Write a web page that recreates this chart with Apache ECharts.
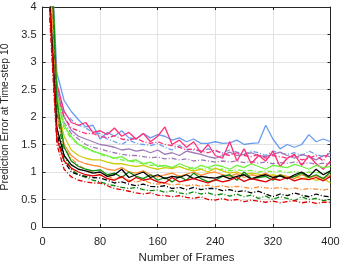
<!DOCTYPE html>
<html><head><meta charset="utf-8">
<script src="https://cdn.jsdelivr.net/npm/echarts@6/dist/echarts.min.js"></script>
<style>html,body{margin:0;padding:0;background:#fff}#c{width:343px;height:263px}</style>
</head><body><div id="c"></div>
<script>
const frames = [10,20,30,40,50,60,70,80,90,100,110,120,130,140,150,160,170,180,190,200,210,220,230,240,250,260,270,280,290,300,310,320,330,340,350,360,370,380,390,400];
const xTicks = [0,80,160,240,320,400];
const yTicks = [0,0.5,1,1.5,2,2.5,3,3.5,4];

const blueSolid = [5.5,2.8,2.3,2.1,1.95,1.82,1.85,1.6,1.72,1.65,1.75,1.62,1.6,1.7,1.62,1.68,1.65,1.58,1.62,1.55,1.6,1.52,1.52,1.55,1.52,1.53,1.58,1.5,1.52,1.53,1.85,1.6,1.42,1.5,1.45,1.5,1.68,1.55,1.6,1.55];
const blueDash = [5.2,2.6,2.1,1.95,1.85,1.8,1.72,1.7,1.6,1.55,1.5,1.58,1.52,1.5,1.48,1.52,1.45,1.4,1.48,1.42,1.4,1.38,1.42,1.38,1.35,1.4,1.36,1.32,1.38,1.35,1.3,1.38,1.34,1.32,1.35,1.3,1.38,1.32,1.28,1.35];
const pinkSolid = [5.0,2.6,2.1,1.9,1.85,1.9,1.72,1.75,1.68,1.8,1.65,1.72,1.6,1.7,1.55,1.65,1.82,1.5,1.58,1.45,1.55,1.35,1.5,1.3,1.25,1.55,1.2,1.42,1.15,1.3,1.2,1.38,1.1,1.25,1.32,1.12,1.3,1.15,1.05,1.2];
const pinkDash = [4.8,2.4,2.0,1.8,1.75,1.7,1.7,1.65,1.62,1.66,1.6,1.58,1.62,1.55,1.52,1.55,1.5,1.48,1.45,1.4,1.42,1.38,1.35,1.4,1.33,1.3,1.35,1.3,1.28,1.32,1.25,1.3,1.28,1.25,1.3,1.22,1.25,1.3,1.2,1.4];
const purpleSolid = [5.0,2.5,2.0,1.76,1.65,1.6,1.55,1.5,1.48,1.45,1.4,1.42,1.38,1.4,1.35,1.4,1.32,1.35,1.3,1.38,1.35,1.32,1.28,1.25,1.3,1.36,1.3,1.32,1.35,1.3,1.28,1.32,1.36,1.3,1.25,1.32,1.28,1.22,1.3,1.28];
const purpleDash = [4.8,2.3,1.9,1.7,1.6,1.5,1.45,1.42,1.38,1.35,1.32,1.3,1.3,1.28,1.26,1.27,1.24,1.25,1.22,1.24,1.2,1.22,1.2,1.18,1.2,1.18,1.2,1.17,1.19,1.16,1.18,1.15,1.17,1.16,1.18,1.15,1.17,1.14,1.16,1.15];
const limeSolid = [5.5,2.4,1.85,1.64,1.5,1.45,1.38,1.34,1.3,1.25,1.28,1.2,1.22,1.15,1.18,1.1,1.12,1.08,1.15,1.1,1.05,1.12,1.08,1.13,1.1,1.05,1.12,1.08,1.15,1.1,1.05,1.12,1.1,1.08,1.14,1.1,1.05,1.12,1.08,1.1];
const limeDash = [5.3,2.3,1.8,1.6,1.5,1.42,1.38,1.32,1.28,1.25,1.22,1.2,1.18,1.15,1.12,1.13,1.1,1.08,1.1,1.06,1.08,1.05,1.06,1.04,1.05,1.02,1.04,1.02,1.03,1.0,1.02,1.0,1.02,0.99,1.01,0.98,1.0,0.99,0.98,1.0];
const yellowSolid = [5.0,2.2,1.65,1.4,1.3,1.25,1.22,1.22,1.18,1.15,1.15,1.12,1.1,1.12,1.08,1.05,1.08,1.06,1.1,1.05,1.02,1.05,1.0,1.07,1.02,0.98,1.0,0.95,0.98,0.96,0.93,0.95,0.92,0.9,0.92,0.88,0.9,0.85,0.88,0.8];
const orangeSolid = [5.0,2.1,1.5,1.3,1.2,1.15,1.12,1.1,1.05,1.03,1.08,1.0,0.98,1.02,0.95,0.91,0.95,0.98,0.92,0.96,1.0,0.94,0.98,1.0,0.95,0.92,0.97,0.9,0.95,0.92,0.98,0.9,0.95,0.92,0.88,0.95,0.9,0.93,0.88,0.95];
const orangeDash = [4.8,2.0,1.45,1.25,1.12,1.05,1.0,0.95,0.92,0.88,0.9,0.85,0.82,0.85,0.8,0.78,0.8,0.76,0.78,0.75,0.77,0.74,0.76,0.73,0.75,0.72,0.74,0.72,0.7,0.73,0.71,0.7,0.72,0.69,0.71,0.68,0.7,0.69,0.67,0.7];
const blackSolid = [4.2,1.8,1.3,1.13,1.05,1.02,0.98,1.0,0.92,0.95,1.05,0.9,0.95,1.0,0.9,0.95,0.88,0.92,0.9,0.95,0.88,0.92,0.9,0.89,0.93,0.88,0.92,0.95,0.87,0.92,0.95,0.9,0.93,0.88,0.95,1.0,0.92,1.05,0.95,1.02];
const blackDash = [4.0,1.7,1.2,1.0,0.95,0.92,0.9,0.89,0.85,0.8,0.82,0.78,0.75,0.78,0.74,0.73,0.75,0.7,0.72,0.68,0.72,0.68,0.7,0.7,0.66,0.68,0.64,0.66,0.62,0.65,0.6,0.55,0.6,0.57,0.62,0.58,0.55,0.6,0.56,0.55];
const greenSolid = [5.8,2.3,1.45,1.2,1.1,1.05,1.02,1.04,0.95,0.98,0.9,1.0,0.92,0.88,0.95,0.85,0.9,0.82,0.92,0.85,0.98,0.88,0.82,0.85,0.92,0.95,0.85,1.0,0.88,0.9,0.92,0.85,0.95,0.88,0.92,0.98,0.9,0.95,0.88,1.0];
const greenDash = [5.5,2.1,1.3,1.05,0.95,0.9,0.85,0.82,0.78,0.75,0.72,0.7,0.72,0.68,0.66,0.67,0.63,0.66,0.62,0.6,0.64,0.6,0.62,0.58,0.6,0.56,0.6,0.55,0.58,0.52,0.56,0.5,0.55,0.52,0.48,0.55,0.5,0.52,0.48,0.5];
const redSolid = [4.0,1.6,1.2,1.07,1.0,0.95,0.93,0.95,0.88,0.85,0.92,0.82,0.9,0.85,0.88,0.82,0.8,0.9,0.82,0.85,0.88,0.84,0.8,0.86,0.82,0.85,0.9,0.83,0.88,0.85,0.82,0.88,0.85,0.9,0.84,0.88,0.86,0.9,0.84,0.92];
const redDash = [3.8,1.5,1.05,0.91,0.85,0.82,0.8,0.8,0.75,0.7,0.68,0.65,0.62,0.6,0.62,0.58,0.57,0.55,0.57,0.54,0.52,0.55,0.5,0.49,0.52,0.48,0.5,0.46,0.49,0.47,0.45,0.47,0.44,0.46,0.48,0.44,0.46,0.43,0.45,0.45];

const DASHDOT = [5,2,1,2];
const seriesDefs = [
  ['blueDash', blueDash, '#6a9cf0', DASHDOT],
  ['blueSolid', blueSolid, '#6a9cf0', 'solid'],
  ['purpleDash', purpleDash, '#a07ab8', DASHDOT],
  ['purpleSolid', purpleSolid, '#a07ab8', 'solid'],
  ['pinkDash', pinkDash, '#ff2f7a', DASHDOT],
  ['pinkSolid', pinkSolid, '#ff2f7a', 'solid'],
  ['limeDash', limeDash, '#6ef23c', DASHDOT],
  ['limeSolid', limeSolid, '#6ef23c', 'solid'],
  ['yellowSolid', yellowSolid, '#cccc10', 'solid'],
  ['orangeDash', orangeDash, '#ff8c33', DASHDOT],
  ['orangeSolid', orangeSolid, '#ff8c33', 'solid'],
  ['greenDash', greenDash, '#0a8a0a', DASHDOT],
  ['greenSolid', greenSolid, '#0a8a0a', 'solid'],
  ['blackDash', blackDash, '#000000', DASHDOT],
  ['blackSolid', blackSolid, '#000000', 'solid'],
  ['redDash', redDash, '#dd0000', DASHDOT],
  ['redSolid', redSolid, '#dd0000', 'solid']
];

const FONT = 'Liberation Sans, Arial, sans-serif';
const axisColor = '#262626';
const chart = echarts.init(document.getElementById('c'), null, {renderer: 'canvas'});
chart.setOption({
  animation: false,
  grid: {left: 42.5, right: 12.5, top: 7, bottom: 36, outerBoundsMode: 'none'},
  xAxis: [{
    type: 'value', min: 0, max: 400, interval: 80,
    name: 'Number of Frames', nameLocation: 'middle', nameGap: 24,
    nameTextStyle: {fontFamily: FONT, fontSize: 11.5, color: axisColor},
    axisLine: {onZero: false, lineStyle: {color: axisColor, width: 1}},
    axisTick: {show: true, inside: true, length: 3, lineStyle: {color: axisColor}},
    axisLabel: {fontFamily: FONT, fontSize: 11, color: axisColor, margin: 9},
    splitLine: {show: true, lineStyle: {color: '#e3e3e3', width: 1}}
  }, {
    type: 'value', min: 0, max: 400, interval: 80, position: 'top',
    axisLine: {onZero: false, lineStyle: {color: axisColor, width: 1}},
    axisTick: {show: true, inside: true, length: 3, lineStyle: {color: axisColor}},
    axisLabel: {show: false}, splitLine: {show: false}
  }],
  yAxis: [{
    type: 'value', min: 0, max: 4, interval: 0.5,
    name: 'Prediction Error at Time-step 10', nameLocation: 'middle', nameGap: 27,
    nameTextStyle: {fontFamily: FONT, fontSize: 10.4, color: axisColor},
    axisLine: {show: true, onZero: false, lineStyle: {color: axisColor, width: 1}},
    axisTick: {show: true, inside: true, length: 3, lineStyle: {color: axisColor}},
    axisLabel: {fontFamily: FONT, fontSize: 11, color: axisColor, margin: 6},
    splitLine: {show: true, lineStyle: {color: '#e3e3e3', width: 1}}
  }, {
    type: 'value', min: 0, max: 4, interval: 0.5, position: 'right',
    axisLine: {show: true, onZero: false, lineStyle: {color: axisColor, width: 1}},
    axisTick: {show: true, inside: true, length: 3, lineStyle: {color: axisColor}},
    axisLabel: {show: false}, splitLine: {show: false}
  }],
  series: seriesDefs.map(([name, vals, color, type]) => ({
    name, type: 'line', xAxisIndex: 0, yAxisIndex: 0,
    data: frames.map((f, i) => [f, vals[i]]),
    showSymbol: false, symbol: 'none', clip: true,
    lineStyle: {color, width: 1.3, type},
    itemStyle: {color}
  }))
});
</script></body></html>
